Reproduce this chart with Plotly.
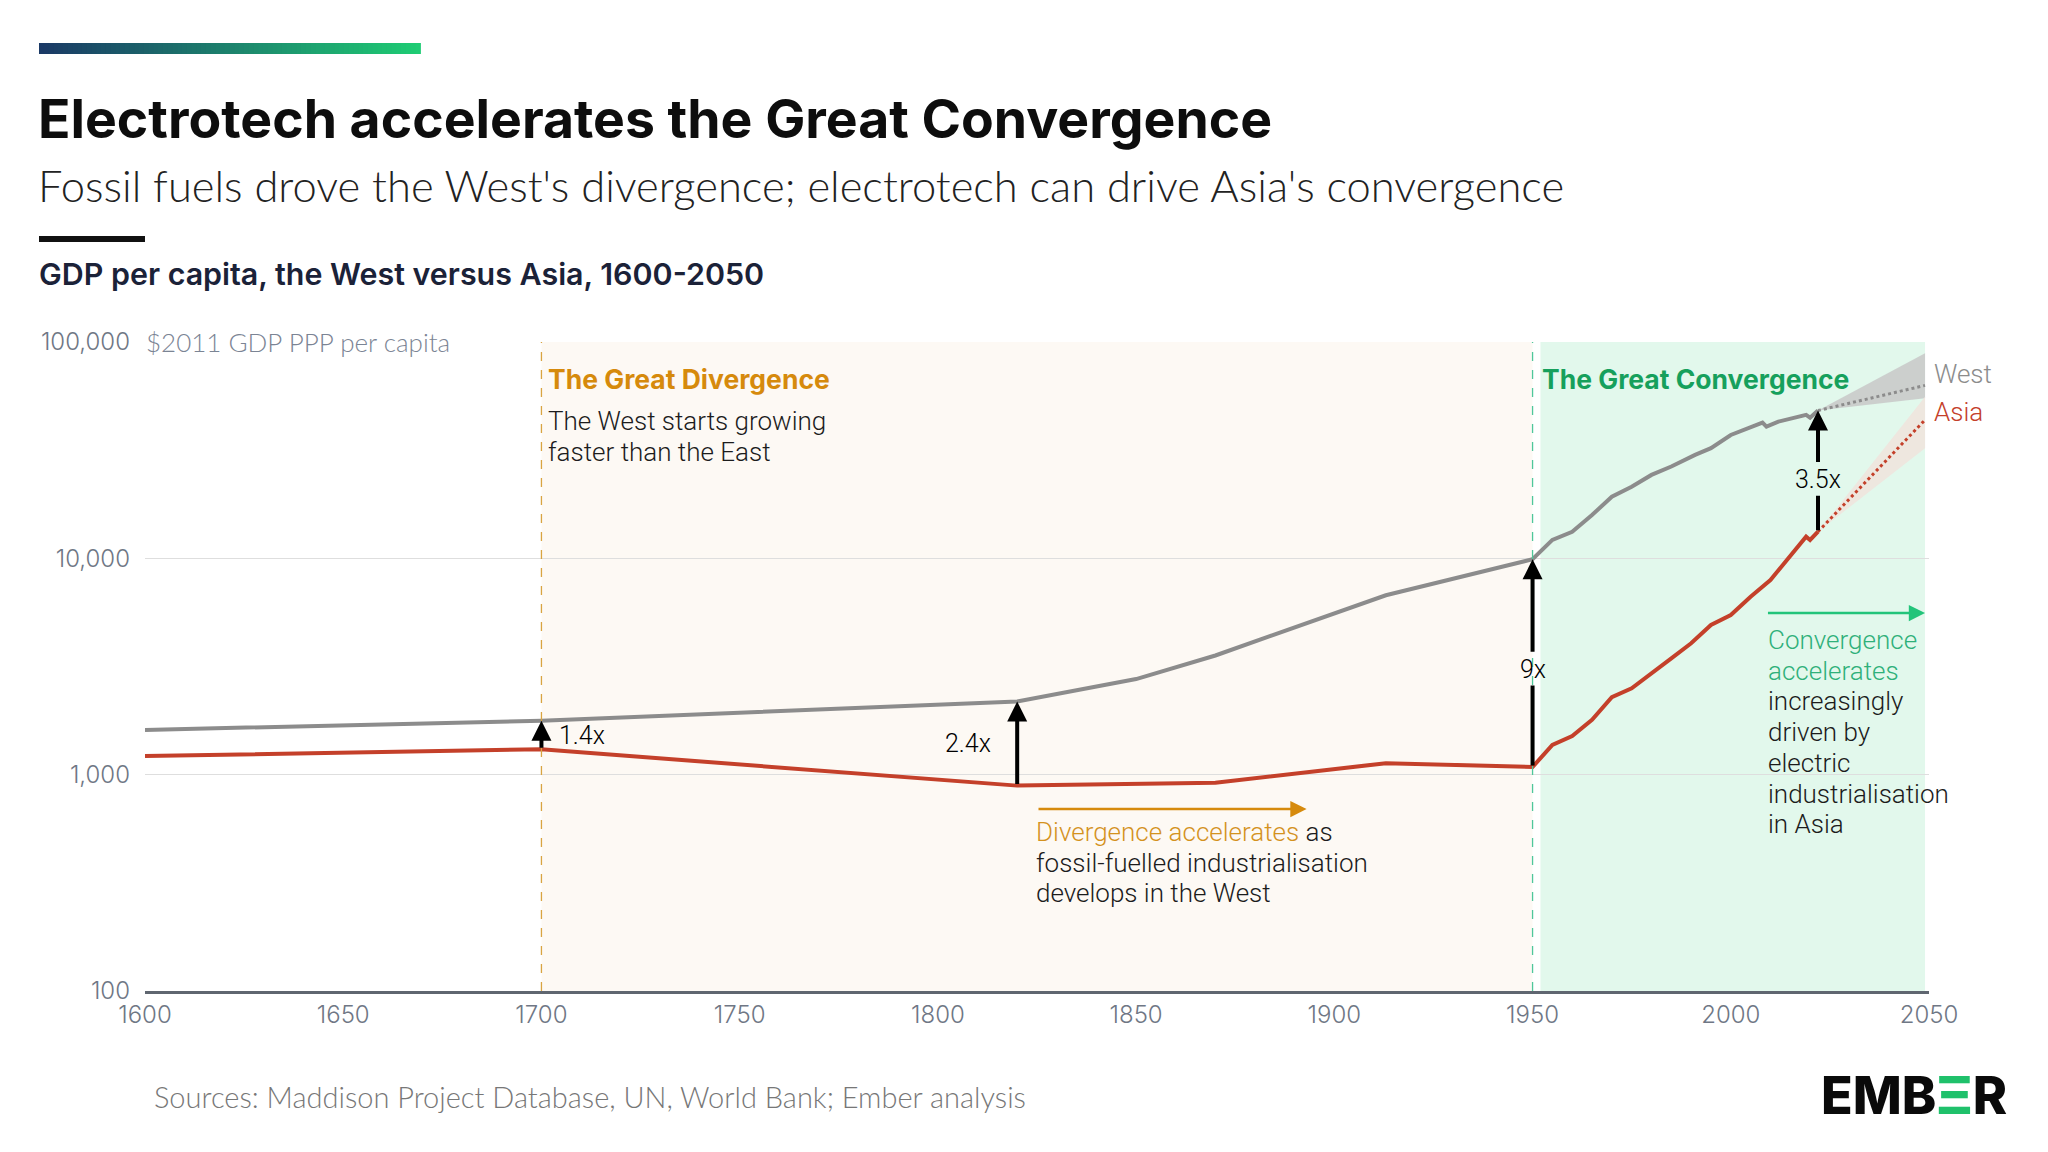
import numpy as np
import plotly.graph_objects as go

# ---------------- Data ----------------
west_years = [1600, 1700, 1820, 1850, 1870, 1913, 1950, 1955, 1960, 1965, 1970, 1975,
              1980, 1985, 1991, 1995, 2000, 2005, 2008, 2009, 2012, 2019, 2020, 2022]
west_gdp = [1610, 1775, 2180, 2766, 3556, 6750, 9900, 12170, 13270, 15850, 19270, 21440,
            24300, 26570, 30090, 32300, 37170, 40630, 42380, 40630, 42850, 46030, 44700, 48200]

asia_years = [1600, 1700, 1820, 1870, 1913, 1940, 1950, 1955, 1960, 1965, 1970, 1975,
              1980, 1985, 1990, 1995, 2000, 2005, 2010, 2014, 2018, 2019, 2020, 2022]
asia_gdp = [1219, 1310, 890, 918, 1130, 1095, 1085, 1371, 1510, 1791, 2280, 2508,
            2960, 3450, 4050, 4920, 5470, 6650, 7940, 9780, 12160, 12600, 12160, 13280]

proj_years = [2022, 2049]
west_proj = [48200, 63000]
west_proj_low = [48200, 55000]
west_proj_high = [48200, 88700]
asia_proj = [13280, 43650]
asia_proj_low = [13280, 32300]
asia_proj_high = [13280, 55900]

gap_years = [1700, 1820, 1950, 2022]
gap_labels = ["1.4x", "2.4x", "9x", "3.5x"]

x_ticks = [1600, 1650, 1700, 1750, 1800, 1850, 1900, 1950, 2000, 2050]
y_ticks = [100, 1000, 10000, 100000]
y_ticktext = ["100", "1,000", "10,000", "100,000"]

divergence_span = [1700, 1950]
convergence_span = [1952, 2049]

# ---------------- Styling ----------------
W, H = 2048, 1152
L, R, T, B = 145, 1929, 342, 991
FONT = "Inter"
LIGHT = "Lato"
BODYF = "Roboto"
WEST_C = "#8c8c8c"
ASIA_C = "#c4402a"
GOLD = "#d68a0c"
GREEN = "#16a05c"
GREEN_L = "#2fb07a"
TXT = "#1c1c1c"
AX_C = "#6f7785"


def px(x):
    return (x - L) / (R - L)


def py(y):
    return (B - y) / (B - T)


fig = go.Figure()

# projection cones
fig.add_trace(go.Scatter(x=proj_years + proj_years[::-1], y=west_proj_high + west_proj_low[::-1],
                         mode="lines", fill="toself", fillcolor="rgba(200,200,200,0.85)", line=dict(width=0),
                         hoverinfo="skip", showlegend=False))
fig.add_trace(go.Scatter(x=proj_years + proj_years[::-1], y=asia_proj_high + asia_proj_low[::-1],
                         mode="lines", fill="toself", fillcolor="rgba(240,228,222,0.9)", line=dict(width=0),
                         hoverinfo="skip", showlegend=False))
# projections dotted
fig.add_trace(go.Scatter(x=proj_years, y=west_proj, mode="lines",
                         line=dict(color=WEST_C, width=3, dash="dot"), showlegend=False))
fig.add_trace(go.Scatter(x=proj_years, y=asia_proj, mode="lines",
                         line=dict(color=ASIA_C, width=3, dash="dot"), showlegend=False))
# historical lines
fig.add_trace(go.Scatter(x=west_years, y=west_gdp, mode="lines", name="West",
                         line=dict(color=WEST_C, width=4), showlegend=False))
fig.add_trace(go.Scatter(x=asia_years, y=asia_gdp, mode="lines", name="Asia",
                         line=dict(color=ASIA_C, width=4), showlegend=False))

shapes = []
# shaded eras
shapes.append(dict(type="rect", xref="x", yref="paper", x0=divergence_span[0], x1=divergence_span[1],
                   y0=0, y1=1, fillcolor="#fdf9f4", line=dict(width=0), layer="below"))
shapes.append(dict(type="rect", xref="x", yref="paper", x0=convergence_span[0], x1=convergence_span[1],
                   y0=0, y1=1, fillcolor="#e2f8ec", line=dict(width=0), layer="below"))
# dashed dividers
shapes.append(dict(type="line", xref="x", yref="paper", x0=divergence_span[0], x1=divergence_span[0],
                   y0=0, y1=1, line=dict(color="#d9a441", width=1.3, dash="dash")))
shapes.append(dict(type="line", xref="x", yref="paper", x0=divergence_span[1], x1=divergence_span[1],
                   y0=0, y1=1, line=dict(color="#4fc79a", width=1.3, dash="dash")))

# gradient bar at top
n = 80
c0 = np.array([0x1b, 0x3a, 0x66])
c1 = np.array([0x1f, 0xcc, 0x74])
x0p, x1p = px(39), px(420)
for i in range(n):
    t = i / (n - 1)
    c = (c0 * (1 - t) + c1 * t).astype(int)
    shapes.append(dict(type="rect", xref="paper", yref="paper",
                       x0=x0p + (x1p - x0p) * i / n, x1=x0p + (x1p - x0p) * (i + 1) / n + 0.0005,
                       y0=py(54), y1=py(43), fillcolor="rgb(%d,%d,%d)" % tuple(c), line=dict(width=0)))
# short black bar
shapes.append(dict(type="rect", xref="paper", yref="paper", x0=px(39), x1=px(145),
                   y0=py(242), y1=py(236), fillcolor="#111111", line=dict(width=0)))

annotations = []


def text(xp, yp, s, size, color=TXT, weight=400, xanchor="left", yanchor="middle", family=FONT):
    annotations.append(dict(xref="paper", yref="paper", x=px(xp), y=py(yp), text=s, showarrow=False,
                            xanchor=xanchor, yanchor=yanchor, borderpad=0,
                            font=dict(family=family, size=size, color=color, weight=weight)))


BODY = 26
LS = 30.7

# titles
text(37, 118, "Electrotech accelerates the Great Convergence", 53.5, "#0d0d0d", 700)
text(37, 185, "Fossil fuels drove the West's divergence; electrotech can drive Asia's convergence", 43.5,
     "#222222", 300, family=LIGHT)
text(38, 274, "GDP per capita, the West versus Asia, 1600-2050", 30.4, "#1b2238", 600)
text(153, 1096, "Sources: Maddison Project Database, UN, World Bank; Ember analysis", 29, "#777777", 300,
     family=LIGHT)
text(2008, 1095, "EMB<span style='color:#1fc16b'>Ξ</span>R", 52, "#0a0a0a", 800, xanchor="right")

# unit label covering the top gridline
annotations.append(dict(xref="paper", yref="paper", x=px(140), y=py(342), xanchor="left", yanchor="middle",
                        text="$2011 GDP PPP per capita", showarrow=False, bgcolor="white", borderpad=5,
                        font=dict(family=LIGHT, size=26, color="#7b8494", weight=300)))

# era annotations
text(547, 379, "The Great Divergence", 26.5, GOLD, 700)
text(547, 421, "The West starts growing", BODY, TXT, 300, family=BODYF)
text(547, 421 + LS, "faster than the East", BODY, TXT, 300, family=BODYF)
text(1541, 379, "The Great Convergence", 26.5, GREEN, 700)
text(1933, 374, "West", BODY, WEST_C, 300, family=BODYF)
text(1933, 412, "Asia", BODY, ASIA_C, 300, family=BODYF)

div_lines = ["<span style='color:#d4921e'>Divergence accelerates</span> as",
             "fossil-fuelled industrialisation", "develops in the West"]
for i, s in enumerate(div_lines):
    text(1035, 832 + LS * i, s, BODY, TXT, 300, family=BODYF)

conv_lines = ["<span style='color:%s'>Convergence</span>" % GREEN_L,
              "<span style='color:%s'>accelerates</span>" % GREEN_L,
              "increasingly", "driven by", "electric", "industrialisation", "in Asia"]
for i, s in enumerate(conv_lines):
    text(1767, 640 + LS * i, s, BODY, TXT, 300, family=BODYF)


def log_y(ypix):
    return 2 + (B - ypix) / ((B - T) / 3)


# horizontal arrows
annotations.append(dict(xref="x", yref="y", axref="x", ayref="y", x=1893, y=log_y(809), ax=1825, ay=log_y(809),
                        text="", showarrow=True, arrowhead=2, arrowsize=1.3, arrowwidth=2.5, arrowcolor="#d68a0c",
                        standoff=0))
annotations.append(dict(xref="x", yref="y", axref="x", ayref="y", x=2049, y=log_y(613), ax=2009, ay=log_y(613),
                        text="", showarrow=True, arrowhead=2, arrowsize=1.3, arrowwidth=2.5, arrowcolor="#22c47a",
                        standoff=0))

# gap arrows computed from the data
label_frac = {"9x": 0.47, "3.5x": 0.43}
for yr, lab in zip(gap_years, gap_labels):
    w = west_gdp[west_years.index(yr)]
    a = asia_gdp[asia_years.index(yr)]
    lw, la = np.log10(w), np.log10(a)
    mid = (lw + la) / 2
    lf = dict(family=BODYF, size=25, color="black", weight=300)
    if lab in label_frac:
        m = la + label_frac[lab] * (lw - la)
        g = 0.075
        annotations.append(dict(xref="x", yref="y", axref="x", ayref="y", x=yr, y=lw, ax=yr, ay=m + g,
                                text="", showarrow=True, arrowhead=2, arrowsize=1.0, arrowwidth=4,
                                arrowcolor="black", standoff=0))
        annotations.append(dict(xref="x", yref="y", axref="x", ayref="y", x=yr, y=m - g, ax=yr, ay=la,
                                text="", showarrow=True, arrowhead=0, arrowwidth=4,
                                arrowcolor="black", standoff=0))
        annotations.append(dict(xref="x", yref="y", x=yr, y=m, text=lab, showarrow=False, font=lf))
    else:
        annotations.append(dict(xref="x", yref="y", axref="x", ayref="y", x=yr, y=lw, ax=yr, ay=la,
                                text="", showarrow=True, arrowhead=2, arrowsize=1.0, arrowwidth=4,
                                arrowcolor="black", standoff=0))
        if lab == "1.4x":
            annotations.append(dict(xref="x", yref="y", x=yr + 4, y=mid, text=lab, showarrow=False,
                                    xanchor="left", font=lf))
        else:
            annotations.append(dict(xref="x", yref="y", x=yr - 6, y=mid, text=lab, showarrow=False,
                                    xanchor="right", font=lf))

fig.update_layout(
    width=W, height=H,
    margin=dict(l=L, r=W - R, t=T, b=H - B),
    paper_bgcolor="white", plot_bgcolor="white",
    shapes=shapes, annotations=annotations,
    font=dict(family=FONT),
    showlegend=False,
)
fig.update_xaxes(range=[1600, 2050], tickvals=x_ticks, showgrid=False, zeroline=False,
                 showline=True, linecolor="#5f6670", linewidth=2.5, ticks="",
                 tickfont=dict(family=FONT, size=24, color=AX_C, weight=300), ticklabelstandoff=0)
fig.update_yaxes(type="log", range=[2, 5], tickvals=y_ticks, ticktext=y_ticktext,
                 showgrid=True, gridcolor="#dedede", gridwidth=1, zeroline=False, showline=False,
                 ticks="", tickfont=dict(family=FONT, size=24, color=AX_C, weight=300),
                 ticklabelstandoff=14)

fig.write_html("out.html")
